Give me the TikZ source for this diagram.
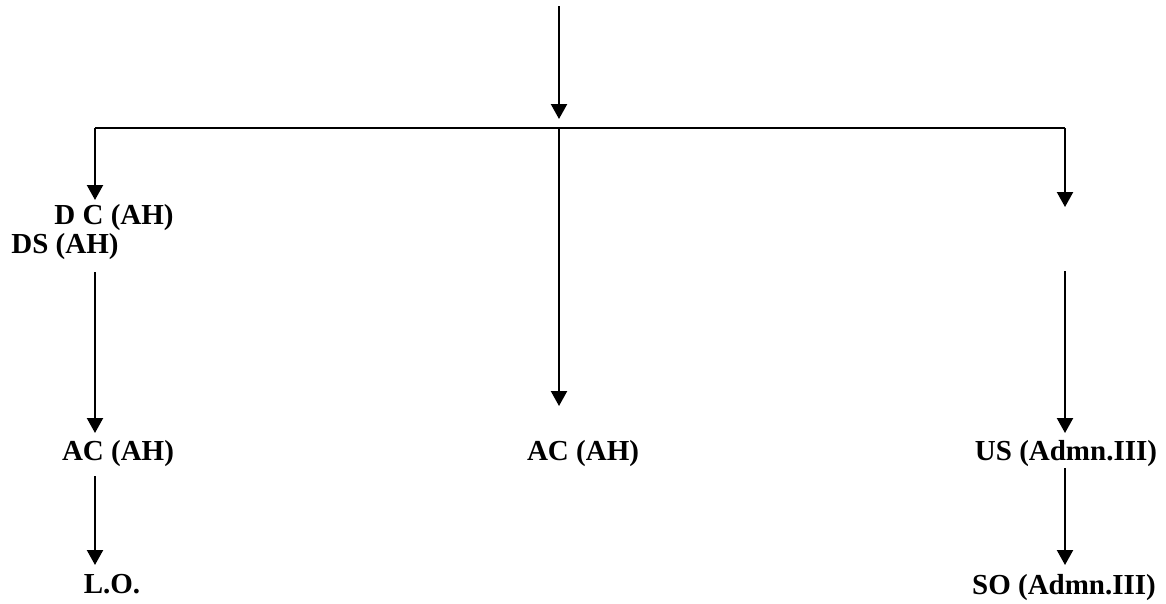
\documentclass[tikz,border=0pt]{standalone}
\usepackage{fontspec}
\setmainfont{Liberation Serif}
\usetikzlibrary{arrows.meta}
\begin{document}
\begin{tikzpicture}[x=1pt,y=-1pt,
  lbl/.style={anchor=base,inner sep=0pt,font=\fontsize{29}{31}\selectfont\bfseries},
  conn/.style={line width=2.2pt},
  arr/.style={conn,-{Triangle[width=16pt,length=15pt]}}]
\useasboundingbox (0,0) rectangle (1166,603);
% labels
\node[lbl] (dc) at (114,224) {D C (AH)};
\node[lbl] (ds) at (65,253) {DS (AH)};
\node[lbl] (acl) at (118,460) {AC (AH)};
\node[lbl] (acm) at (583,460) {AC (AH)};
\node[lbl] (us) at (1066,460) {US (Admn.III)};
\node[lbl] (lo) at (112,593) {L.O.};
\node[lbl] (so) at (1064,594) {SO (Admn.III)};
% coordinates
\coordinate (top) at (559,6);
\coordinate (topend) at (559,119);
\coordinate (jl) at (95,128);
\coordinate (jm) at (559,128);
\coordinate (jr) at (1065,128);
\coordinate (dcend) at (95,200);
\coordinate (rend) at (1065,207);
\coordinate (dsstart) at (95,272);
\coordinate (aclend) at (95,433);
\coordinate (acmend) at (559,406);
\coordinate (rstart) at (1065,271);
\coordinate (usend) at (1065,433);
\coordinate (aclstart) at (95,476);
\coordinate (loend) at (95,565);
\coordinate (usstart) at (1065,468);
\coordinate (soend) at (1065,565);
% connectors
\draw[arr] (top) -- (topend);
\draw[conn] (jl) -- (jr);
\draw[arr] (jl) -- (dcend);
\draw[arr] (jm) -- (acmend);
\draw[arr] (jr) -- (rend);
\draw[arr] (dsstart) -- (aclend);
\draw[arr] (rstart) -- (usend);
\draw[arr] (aclstart) -- (loend);
\draw[arr] (usstart) -- (soend);
\end{tikzpicture}
\end{document}
